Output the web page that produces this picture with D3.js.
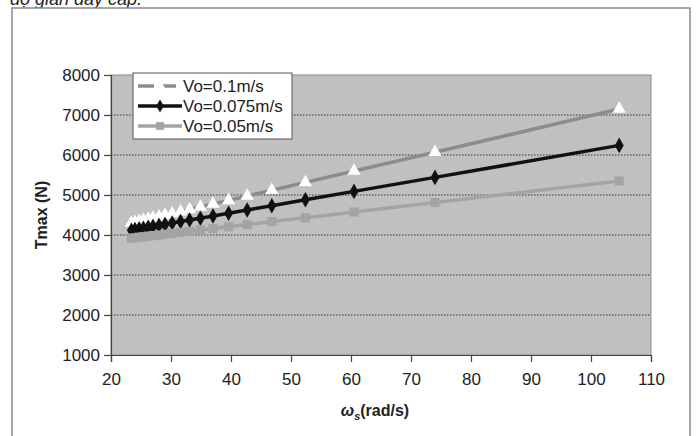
<!DOCTYPE html>
<html>
<head>
<meta charset="utf-8">
<script src="https://cdn.jsdelivr.net/npm/d3@7"></script>
<style>
body { margin: 0; background: #fff; }
svg text { font-family: "Liberation Sans Narrow", "Liberation Sans", Arial, sans-serif; fill: #222; }
</style>
</head>
<body>
<div class="chart"></div>
<script>
// data
let omega = [23.4, 24.0, 24.7, 25.4, 26.2, 27.0, 28.0, 29.0, 30.2, 31.6, 33.1, 34.9, 37.0, 39.6, 42.7, 46.8, 52.4, 60.5, 74.0, 104.7];
let seriesNames = ["Vo=0.1m/s", "Vo=0.075m/s", "Vo=0.05m/s"];
let t01 = [4300, 4320, 4345, 4370, 4400, 4425, 4460, 4495, 4535, 4585, 4640, 4700, 4775, 4865, 4975, 5120, 5315, 5600, 6070, 7150];
let t0075 = [4120, 4135, 4155, 4170, 4195, 4215, 4240, 4265, 4300, 4335, 4375, 4420, 4475, 4545, 4625, 4730, 4880, 5090, 5440, 6240];
let t005 = [3920, 3930, 3945, 3955, 3970, 3985, 4000, 4020, 4040, 4065, 4090, 4125, 4160, 4205, 4260, 4335, 4430, 4575, 4810, 5350];
let xTicks = [20, 30, 40, 50, 60, 70, 80, 90, 100, 110];
let yTicks = [1000, 2000, 3000, 4000, 5000, 6000, 7000, 8000];

let outerWidth = 699, outerHeight = 436;
let margin = {top: 75, right: 48, bottom: 81, left: 111};
let width = outerWidth - margin.left - margin.right, height = outerHeight - margin.top - margin.bottom;

let root = d3.select('.chart').append('svg')
    .attr('width', outerWidth)
    .attr('height', outerHeight);

// caption, cut off at the top like the reference
root.append('text')
    .attr('x', 10).attr('y', 5)
    .style('font-family', 'Arial, sans-serif')
    .style('font-style', 'italic')
    .style('font-size', '18px')
    .text('độ giãn dây cáp.');

// outer frame
root.append('rect')
    .attr('x', 12).attr('y', 8)
    .attr('width', 678).attr('height', 440)
    .attr('fill', '#fff')
    .attr('stroke', '#8a8a8a')
    .attr('stroke-width', 1.5);

let svg = root.append('g')
    .attr('transform', `translate(${margin.left},${margin.top})`);

const xScale = d3.scaleLinear().domain([20, 110]).range([0, width]);
const yScale = d3.scaleLinear().domain([1000, 8000]).range([height, 0]);

svg.append('rect')
    .attr('width', width).attr('height', height)
    .attr('fill', '#c0c0c0')
    .attr('stroke', '#8a8a8a');

// grid
svg.selectAll('.grid')
    .data(yTicks.slice(1, -1))
    .enter().append('line')
    .attr('x1', 0).attr('x2', width)
    .attr('y1', d => yScale(d)).attr('y2', d => yScale(d))
    .attr('stroke', '#333')
    .attr('stroke-width', 1.2)
    .attr('stroke-dasharray', '1.5,1.5');

// axes
let xAxis = d3.axisBottom(xScale).tickValues(xTicks).tickSize(7).tickPadding(11);
svg.append('g')
    .attr('class', 'axis x-axis')
    .attr('transform', `translate(0, ${height})`)
    .call(xAxis);

let yAxis = d3.axisLeft(yScale).tickValues(yTicks).tickFormat(d3.format('d')).tickSize(7).tickPadding(4);
svg.append('g')
    .attr('class', 'axis y-axis')
    .call(yAxis);

svg.selectAll('.axis path, .axis line').attr('stroke', '#444').attr('stroke-width', 1.2);
svg.selectAll('.axis text').style('font-size', '17px').attr('fill', '#222');

// series
let series = [
    {name: seriesNames[0], vals: t01, color: '#8c8c8c', marker: 'triangle'},
    {name: seriesNames[1], vals: t0075, color: '#111', marker: 'diamond'},
    {name: seriesNames[2], vals: t005, color: '#a4a4a4', marker: 'square'}
];

let line = d3.line().x(d => xScale(d[0])).y(d => yScale(d[1]));

function drawMarker(g, type, size) {
    if (type == 'triangle')
        return g.append('path').attr('d', d3.symbol(d3.symbolTriangle, size * 1.1)()).attr('fill', '#fff');
    if (type == 'diamond')
        return g.append('path').attr('d', d3.symbol(d3.symbolDiamond, size)()).attr('fill', '#111');
    return g.append('path').attr('d', d3.symbol(d3.symbolSquare, size * 1.2)()).attr('fill', '#a4a4a4');
}

series.forEach(s => {
    let pts = omega.map((w, i) => [w, s.vals[i]]);
    svg.append('path')
        .datum(pts)
        .attr('d', line)
        .attr('fill', 'none')
        .attr('stroke', s.color)
        .attr('stroke-width', 3.5);
    pts.forEach(p => {
        let g = svg.append('g').attr('transform', `translate(${xScale(p[0])},${yScale(p[1])})`);
        drawMarker(g, s.marker, 70);
    });
});

// legend
let legend = root.append('g').attr('transform', 'translate(133,73)');
legend.append('rect')
    .attr('width', 159).attr('height', 66)
    .attr('fill', '#fff')
    .attr('stroke', '#555');
series.forEach((s, i) => {
    let ly = 13 + i * 20;
    legend.append('line')
        .attr('x1', 5).attr('x2', 49)
        .attr('y1', ly).attr('y2', ly)
        .attr('stroke', s.color)
        .attr('stroke-width', 3.5)
        .attr('stroke-dasharray', i == 0 ? '16,6' : null);
    let g = legend.append('g').attr('transform', `translate(27,${ly})`);
    drawMarker(g, s.marker, 50);
    legend.append('text')
        .attr('x', 50).attr('y', ly + 6)
        .style('font-size', '17px')
        .text(s.name);
});

// axis titles
root.append('text')
    .attr('transform', `translate(47, ${margin.top + height / 2}) rotate(-90)`)
    .attr('text-anchor', 'middle')
    .style('font-size', '16px')
    .style('font-weight', 'bold')
    .text('Tmax (N)');

let xt = root.append('text')
    .attr('x', margin.left + width / 2 - 6)
    .attr('y', 416)
    .attr('text-anchor', 'middle')
    .style('font-size', '16px')
    .style('font-weight', 'bold');
xt.append('tspan').style('font-style', 'italic').text('ω');
xt.append('tspan').style('font-style', 'italic').style('font-size', '11px').attr('dy', 4).text('s');
xt.append('tspan').attr('dy', -4).text('(rad/s)');
</script>
</body>
</html>
